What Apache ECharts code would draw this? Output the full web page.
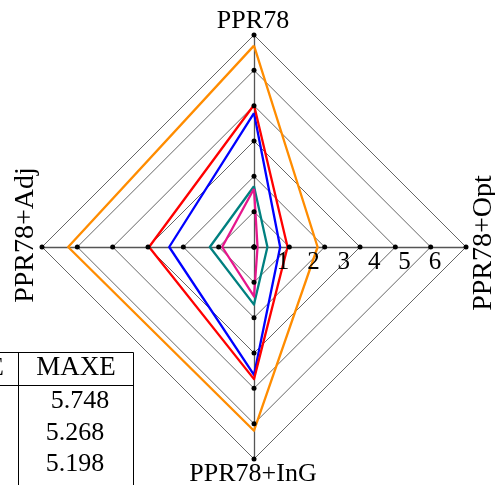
<!DOCTYPE html>
<html>
<head>
<meta charset="utf-8">
<script src="https://cdn.jsdelivr.net/npm/echarts@6/dist/echarts.min.js"></script>
<style>
html,body{margin:0;padding:0;background:#fff;}
#c{width:495px;height:485px;}
</style>
</head>
<body>
<div id="c"></div>
<script>
// Axes (counter-clockwise from top, as ECharts radar orders them)
const indicators = ['PPR78', 'PPR78+Adj', 'PPR78+InG', 'PPR78+Opt'];
const ringTicks = [0, 1, 2, 3, 4, 5, 6];
const tickLabels = ['1', '2', '3', '4', '5', '6'];

// Series values, order: PPR78, PPR78+Adj, PPR78+InG, PPR78+Opt
const orangeVals  = [5.70, 5.26, 5.20, 1.80];
const redVals     = [4.02, 2.97, 3.74, 0.95];
const blueVals    = [3.79, 2.40, 3.62, 0.74];
const tealVals    = [1.72, 1.25, 1.63, 0.38];
const magentaVals = [1.65, 0.90, 1.40, 0.10];

// Partially visible table
const tableHeaders = ['MAE', 'MAXE'];
const maxeValues = ['5.748', '5.268', '5.198'];

const FONT = '"Liberation Serif", "DejaVu Serif", serif';
const CX = 254, CY = 247, R = 212;

const chart = echarts.init(document.getElementById('c'), null, {renderer: 'canvas'});

const lineSeries = [
  {vals: orangeVals, color: '#FF8C00'},
  {vals: blueVals, color: '#0000FF'},
  {vals: redVals, color: '#FF0000'},
  {vals: tealVals, color: '#008080'},
  {vals: magentaVals, color: '#E6168C'}
].map(s => ({
  type: 'radar',
  symbol: 'none',
  silent: true,
  z: 3,
  lineStyle: {color: s.color, width: 2.3},
  data: [{value: s.vals}]
}));

const dotSeries = {
  type: 'radar',
  symbol: 'circle',
  symbolSize: 5,
  silent: true,
  z: 4,
  itemStyle: {color: '#000'},
  lineStyle: {opacity: 0, width: 0},
  data: ringTicks.map(k => ({value: indicators.map(() => k)}))
};

const graphic = [];
// axis names
graphic.push({type: 'text', x: 253, y: 21, style: {text: indicators[0], x: 0, y: 0, align: 'center', verticalAlign: 'middle', font: '26px ' + FONT, fill: '#000'}});
graphic.push({type: 'text', x: 26, y: 235, rotation: Math.PI / 2, style: {text: indicators[1], x: 0, y: 0, align: 'center', verticalAlign: 'middle', font: '28px ' + FONT, fill: '#000'}});
graphic.push({type: 'text', x: 253, y: 474, style: {text: indicators[2], x: 0, y: 0, align: 'center', verticalAlign: 'middle', font: '26px ' + FONT, fill: '#000'}});
graphic.push({type: 'text', x: 484, y: 243, rotation: Math.PI / 2, style: {text: indicators[3], x: 0, y: 0, align: 'center', verticalAlign: 'middle', font: '28px ' + FONT, fill: '#000'}});
// tick labels along the right axis
tickLabels.forEach((t, i) => {
  graphic.push({type: 'text', x: 283 + i * 30.4, y: 262, z: 10, style: {text: t, x: 0, y: 0, align: 'center', verticalAlign: 'middle', font: '25px ' + FONT, fill: '#000'}});
});
// table lines
const lineStyleT = {stroke: '#000', lineWidth: 1};
graphic.push({type: 'line', shape: {x1: 0, y1: 352.5, x2: 133.5, y2: 352.5}, style: lineStyleT});
graphic.push({type: 'line', shape: {x1: 0, y1: 385.5, x2: 133.5, y2: 385.5}, style: lineStyleT});
graphic.push({type: 'line', shape: {x1: 18.5, y1: 352.5, x2: 18.5, y2: 485}, style: lineStyleT});
graphic.push({type: 'line', shape: {x1: 133.5, y1: 352.5, x2: 133.5, y2: 485}, style: lineStyleT});
graphic.push({type: 'text', x: 4, y: 368, style: {text: tableHeaders[0], x: 0, y: 0, align: 'right', verticalAlign: 'middle', font: '26px ' + FONT, fill: '#000'}});
graphic.push({type: 'text', x: 76, y: 368, style: {text: tableHeaders[1], x: 0, y: 0, align: 'center', verticalAlign: 'middle', font: '27px ' + FONT, fill: '#000'}});
const valX = [80, 75, 75];
maxeValues.forEach((v, i) => {
  graphic.push({type: 'text', x: valX[i], y: 401 + i * 31.7, style: {text: v, x: 0, y: 0, align: 'center', verticalAlign: 'middle', font: '26px ' + FONT, fill: '#000'}});
});

chart.setOption({
  animation: false,
  backgroundColor: '#fff',
  radar: {
    center: [CX, CY],
    radius: R,
    startAngle: 90,
    shape: 'polygon',
    splitNumber: 6,
    indicator: indicators.map(n => ({name: n, min: 0, max: 6})),
    axisName: {show: false},
    axisLine: {show: true, lineStyle: {color: '#555', width: 1.3}},
    axisTick: {show: false},
    axisLabel: {show: false},
    splitLine: {show: true, lineStyle: {color: '#666', width: 1}},
    splitArea: {show: false}
  },
  series: lineSeries.concat([dotSeries]),
  graphic: graphic
});
</script>
</body>
</html>
